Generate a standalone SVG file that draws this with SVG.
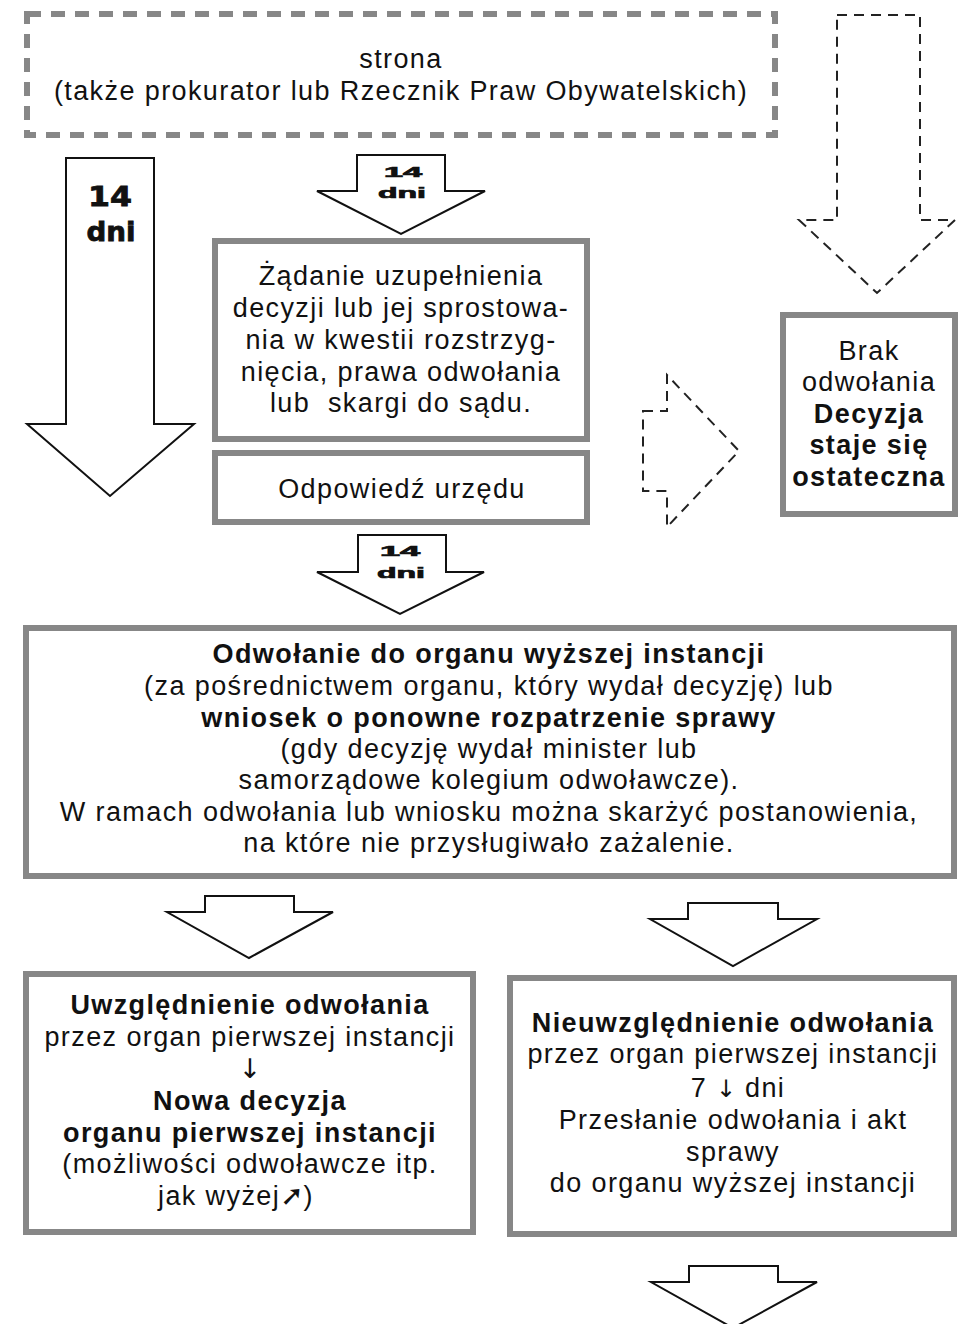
<svg xmlns="http://www.w3.org/2000/svg" width="962" height="1324" viewBox="0 0 962 1324">
<style>
.box{fill:#fff;stroke:#878787;stroke-width:6}
.dbox{fill:#fff;stroke:#878787;stroke-width:6;stroke-dasharray:14 10}
.arr{fill:#fff;stroke:#111;stroke-width:2;stroke-linejoin:miter}
.darr{fill:none;stroke:#222;stroke-width:2;stroke-dasharray:10 7}
.t{font-family:"Liberation Sans",Arial,sans-serif;font-size:27px;letter-spacing:1.4px;fill:#111;text-anchor:middle}
.b{font-weight:bold}
.g{font-family:"DejaVu Sans",sans-serif;letter-spacing:0}
.h{font-family:"DejaVu Sans","Liberation Sans",sans-serif;font-weight:bold;fill:#111;stroke:#111;stroke-width:0.8;text-anchor:middle}
.s{font-family:"Liberation Sans",Arial,sans-serif;font-weight:bold;fill:#111;stroke:#111;stroke-width:0.7;text-anchor:middle}
</style>
<rect width="962" height="1324" fill="#fff"/>
<g id="connectors">
<polygon class="arr" points="66,158 154,158 154,424 194,424 110,496 27,424 66,424"/>
<polygon class="arr" points="357,155 445,155 445,191 485,191 401,234 317,191 357,191"/>
<polygon class="arr" points="358,535 446,535 446,572 484,572 400,614 317,572 358,572"/>
<polygon class="arr" points="205,896 294,896 294,912 333,912 249,958 167,912 205,912"/>
<polygon class="arr" points="688,903 778,903 778,919 817,919 733,966 650,919 688,919"/>
<polygon class="arr" points="689,1266 778,1266 778,1282 817,1282 733,1328 651,1282 689,1282"/>
<polygon class="darr" points="837,15 920,15 920,220 955,220 877,293 799,220 837,220"/>
<polygon class="darr" points="643,411 667,411 667,375 739,451 667,527 667,491 643,491"/>
<text class="h" x="110" y="206" font-size="26" textLength="44" lengthAdjust="spacingAndGlyphs">14</text>
<text class="h" x="111" y="241" font-size="26" textLength="49" lengthAdjust="spacingAndGlyphs">dni</text>
<text class="s" x="403" y="177" font-size="14" textLength="38" lengthAdjust="spacingAndGlyphs">14</text>
<text class="s" x="402" y="198" font-size="15" textLength="48" lengthAdjust="spacingAndGlyphs">dni</text>
<text class="s" x="400" y="556" font-size="14" textLength="40" lengthAdjust="spacingAndGlyphs">14</text>
<text class="s" x="401" y="578" font-size="15" textLength="48" lengthAdjust="spacingAndGlyphs">dni</text>
</g>
<g id="strona">
<rect class="dbox" x="27" y="14" width="748" height="121"/>
<text class="t" x="401" y="68">strona</text>
<text class="t" x="401" y="100">(także prokurator lub Rzecznik Praw Obywatelskich)</text>
</g>
<g id="zadanie">
<rect class="box" x="215" y="241" width="372" height="198"/>
<text class="t" x="401" y="285">Żądanie uzupełnienia</text>
<text class="t" x="401" y="317">decyzji lub jej sprostowa-</text>
<text class="t" x="401" y="349">nia w kwestii rozstrzyg-</text>
<text class="t" x="401" y="381">nięcia, prawa odwołania</text>
<text class="t" x="401" y="412" xml:space="preserve">lub  skargi do sądu.</text>
</g>
<g id="odpowiedz">
<rect class="box" x="215" y="453" width="372" height="69"/>
<text class="t" x="402" y="498">Odpowiedź urzędu</text>
</g>
<g id="brak">
<rect class="box" x="783" y="315" width="172" height="199"/>
<text class="t" x="869" y="360">Brak</text>
<text class="t" x="869" y="391">odwołania</text>
<text class="t b" x="869" y="423">Decyzja</text>
<text class="t b" x="869" y="454">staje się</text>
<text class="t b" x="869" y="486">ostateczna</text>
</g>
<g id="odwolanie">
<rect class="box" x="26" y="628" width="928" height="248"/>
<text class="t b" x="489" y="663">Odwołanie do organu wyższej instancji</text>
<text class="t" x="489" y="695">(za pośrednictwem organu, który wydał decyzję) lub</text>
<text class="t b" x="489" y="727">wniosek o ponowne rozpatrzenie sprawy</text>
<text class="t" x="489" y="758">(gdy decyzję wydał minister lub</text>
<text class="t" x="489" y="789">samorządowe kolegium odwoławcze).</text>
<text class="t" x="489" y="821">W ramach odwołania lub wniosku można skarżyć postanowienia,</text>
<text class="t" x="489" y="852">na które nie przysługiwało zażalenie.</text>
</g>
<g id="uwzglednienie">
<rect class="box" x="26" y="974" width="447" height="258"/>
<text class="t b" x="250" y="1014">Uwzględnienie odwołania</text>
<text class="t" x="250" y="1046">przez organ pierwszej instancji</text>
<text class="t g" x="250" y="1078" font-size="24">↓</text>
<text class="t b" x="250" y="1110">Nowa decyzja</text>
<text class="t b" x="250" y="1142">organu pierwszej instancji</text>
<text class="t" x="250" y="1173">(możliwości odwoławcze itp.</text>
<text class="t" x="236" y="1205">jak wyżej<tspan class="g" font-size="28">➚</tspan>)</text>
</g>
<g id="nieuwzglednienie">
<rect class="box" x="510" y="978" width="444" height="256"/>
<text class="t b" x="733" y="1032">Nieuwzględnienie odwołania</text>
<text class="t" x="733" y="1063">przez organ pierwszej instancji</text>
<text class="t" x="738" y="1097">7 <tspan class="g" font-size="24">↓</tspan> dni</text>
<text class="t" x="733" y="1129">Przesłanie odwołania i akt</text>
<text class="t" x="733" y="1161">sprawy</text>
<text class="t" x="733" y="1192">do organu wyższej instancji</text>
</g>
</svg>
